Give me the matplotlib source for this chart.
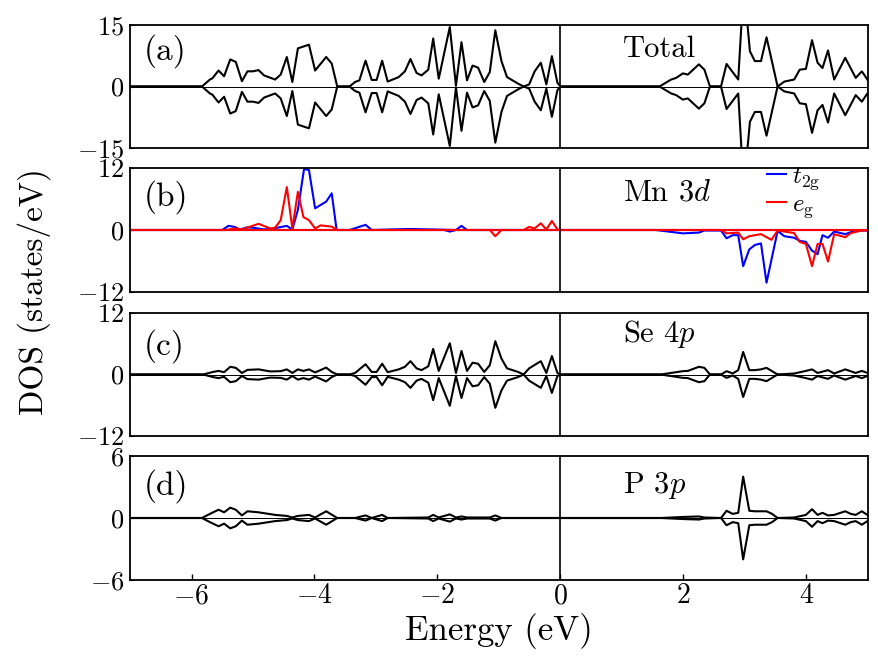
import matplotlib
matplotlib.use("Agg")
import matplotlib.pyplot as plt
import numpy as np

plt.rcParams['font.family'] = ['cmr10', 'DejaVu Serif']
plt.rcParams['mathtext.fontset'] = 'cm'
plt.rcParams['axes.formatter.use_mathtext'] = True

# ---------------- data (energies in eV, DOS in states/eV) ----------------
E_tot = [-7.0, -5.83, -5.70, -5.66, -5.56, -5.47, -5.37, -5.28, -5.18, -5.09,
         -5.00, -4.91, -4.82, -4.64, -4.55, -4.45, -4.36, -4.27, -4.09, -3.99,
         -3.81, -3.72, -3.63, -3.43, -3.34, -3.27, -3.17, -3.07, -2.99, -2.90,
         -2.81, -2.63, -2.53, -2.44, -2.34, -2.26, -2.15, -2.07, -1.98, -1.80,
         -1.70, -1.61, -1.52, -1.43, -1.34, -1.24, -1.15, -1.06, -0.96, -0.87,
         -0.69, -0.60, -0.51, -0.42, -0.32, -0.23, -0.14, -0.05, 0.0, 1.61,
         1.80, 1.88, 1.99, 2.07, 2.25, 2.34, 2.43, 2.61, 2.70, 2.89,
         2.98, 3.08, 3.16, 3.26, 3.35, 3.53, 3.64, 3.80, 3.89, 3.99,
         4.09, 4.18, 4.26, 4.35, 4.45, 4.63, 4.80, 4.90, 4.99, 5.0]
V_tot = [0, 0, 1.7, 2.0, 3.9, 2.5, 6.6, 6.0, 1.3, 3.7,
         3.7, 4.0, 2.7, 1.7, 2.9, 7.2, 1.1, 9.3, 10.2, 3.9,
         7.2, 5.6, 0, 0, 1.1, 1.5, 6.3, 1.6, 1.6, 6.3,
         1.2, 2.3, 3.7, 6.7, 3.3, 2.7, 4.1, 11.7, 1.9, 14.5,
         0.2, 10.8, 1.5, 5.1, 4.6, 1.1, 3.5, 13.7, 6.2, 2.3,
         0.7, 0, 0.5, 3.7, 5.8, 0.5, 7.4, 0.9, 0, 0,
         1.7, 2.1, 3.2, 2.9, 5.4, 4.1, 0, 0, 5.5, 1.7,
         25.0, 8.6, 6.2, 6.2, 12.0, 0, 1.2, 1.7, 4.1, 4.3,
         11.3, 5.8, 4.5, 8.8, 1.7, 7.0, 2.1, 3.7, 1.7, 1.5]

E_t2g_up = [-7.0, -5.50, -5.40, -5.30, -5.21, -5.10, -5.00, -4.82, -4.67, -4.45,
            -4.36, -4.27, -4.17, -4.09, -3.99, -3.81, -3.72, -3.64, -3.43, -3.17,
            -3.07, -2.44, -1.70, -1.61, -1.52, 5.0]
V_t2g_up = [0, 0, 0.8, 0.6, 0.1, 0.5, 0.45, 0.1, 0.3, 0.8,
            0.1, 3.9, 11.8, 11.6, 4.2, 5.5, 7.1, 0, 0, 1.0,
            0, 0.2, 0, 0.8, 0, 0]
E_t2g_dn = [-7.0, -1.89, -1.80, -1.70, 1.55, 1.99, 2.25, 2.34, 2.61, 2.70,
            2.80, 2.89, 2.97, 3.07, 3.16, 3.26, 3.35, 3.53, 3.64, 3.80,
            3.89, 3.99, 4.09, 4.18, 4.26, 4.35, 4.45, 4.63, 4.80, 5.0]
V_t2g_dn = [0, 0, -0.3, 0, 0, -0.65, -0.5, -0.1, -0.1, -1.6,
            -1.0, -1.0, -7.0, -3.75, -2.9, -2.6, -10.2, -0.2, -1.2, -1.5,
            -2.1, -2.3, -4.0, -4.7, -1.0, -1.5, -0.3, -0.8, -0.1, -0.1]
E_eg_up = [-7.0, -5.45, -5.28, -5.18, -4.91, -4.72, -4.64, -4.55, -4.45, -4.36,
           -4.27, -4.18, -4.09, -3.99, -3.90, -3.72, -3.63, -0.60, -0.51, -0.42,
           -0.32, -0.23, -0.14, -0.05, 0.0, 5.0]
V_eg_up = [0, 0, 0.3, 0.1, 1.2, 0.3, 0.45, 1.9, 8.3, 0.3,
           7.4, 2.5, 1.9, 0.3, 0.9, 0.65, 0, 0, 0.6, 0.3,
           1.3, 0.1, 1.75, 0.1, 0, 0]
E_eg_dn = [-7.0, -1.15, -1.06, -0.96, 2.61, 2.70, 2.89, 2.97, 3.07, 3.26,
           3.43, 3.53, 3.80, 3.89, 3.99, 4.09, 4.18, 4.26, 4.35, 4.45,
           4.63, 4.72, 4.90, 5.0]
V_eg_dn = [0, 0, -1.2, 0, 0, -0.65, -0.5, -1.8, -1.2, -0.8,
           -1.9, -0.1, -0.6, -2.3, -2.7, -7.0, -2.7, -2.7, -6.1, -0.8,
           -1.4, -0.6, -0.1, -0.1]

E_se = [-7.0, -5.81, -5.65, -5.56, -5.47, -5.37, -5.28, -5.18, -5.09, -4.91,
        -4.72, -4.55, -4.45, -4.36, -4.27, -4.18, -4.09, -3.99, -3.81, -3.72,
        -3.63, -3.43, -3.34, -3.17, -3.07, -2.99, -2.90, -2.81, -2.63, -2.53,
        -2.44, -2.34, -2.26, -2.15, -2.07, -1.98, -1.80, -1.70, -1.61, -1.52,
        -1.43, -1.34, -1.24, -1.15, -1.06, -0.96, -0.87, -0.69, -0.60, -0.51,
        -0.32, -0.23, -0.14, -0.05, 0.0, 1.63, 1.99, 2.07, 2.25, 2.34,
        2.43, 2.61, 2.70, 2.80, 2.89, 2.97, 3.07, 3.16, 3.26, 3.35,
        3.53, 3.80, 3.99, 4.09, 4.18, 4.35, 4.45, 4.63, 4.80, 4.90,
        4.99, 5.0]
V_se = [0, 0, 0.5, 0.7, 0.45, 1.5, 1.3, 0.3, 0.9, 1.0,
        0.6, 0.65, 1.0, 0.3, 1.0, 0.7, 1.0, 0.4, 1.35, 0.5,
        0, 0, 0.3, 2.0, 0.5, 0.5, 2.1, 0.45, 1.0, 1.5,
        2.6, 1.2, 0.85, 1.6, 5.0, 0.7, 6.1, 0.3, 4.6, 0.7,
        2.3, 2.1, 0.5, 1.8, 6.5, 3.1, 1.2, 0.5, 0, 1.2,
        2.6, 0.3, 3.6, 0.3, 0, 0, 0.65, 0.7, 1.5, 1.3,
        0, 0, 0.65, 0.2, 0.85, 4.4, 0.85, 0.85, 1.0, 1.3,
        0, 0.2, 0.7, 1.0, 0.3, 0.85, 0.2, 1.0, 0.3, 0.7,
        0.3, 0.3]

E_p = [-7.0, -5.83, -5.70, -5.56, -5.47, -5.37, -5.28, -5.18, -5.09, -4.91,
       -4.64, -4.45, -4.36, -4.27, -4.09, -3.99, -3.81, -3.63, -3.34, -3.17,
       -3.07, -2.90, -2.81, -2.15, -2.07, -1.98, -1.80, -1.70, -1.61, -1.52,
       -1.15, -1.06, -0.96, 1.63, 1.99, 2.25, 2.34, 2.61, 2.70, 2.80,
       2.89, 2.97, 3.07, 3.16, 3.35, 3.44, 3.53, 3.80, 3.99, 4.09,
       4.18, 4.26, 4.35, 4.45, 4.63, 4.72, 4.80, 4.90, 4.99, 5.0]
V_p = [0, 0, 0.4, 0.8, 0.55, 1.0, 0.8, 0.25, 0.65, 0.55,
       0.3, 0.2, 0.05, 0.2, 0.3, 0.05, 0.65, 0, 0, 0.25,
       0, 0.3, 0, 0.05, 0.3, 0.05, 0.35, 0.05, 0.15, 0.05,
       0.05, 0.25, 0, 0, 0.1, 0.15, 0.05, 0, 0.7, 0.4,
       0.5, 4.0, 0.7, 0.65, 0.65, 0.4, 0, 0.05, 0.3, 0.85,
       0.3, 0.5, 0.25, 0.3, 0.65, 0.4, 0.3, 0.65, 0.3, 0.3]

panel_tags = ['(a)', '(b)', '(c)', '(d)']
panel_names = ['Total', 'Mn 3$d$', 'Se 4$p$', 'P 3$p$']
ylims = [15, 12, 12, 6]
xticks = [-6, -4, -2, 0, 2, 4]
xticklabels = ['$-6$', '$-4$', '$-2$', '$0$', '$2$', '$4$']

# ---------------- figure ----------------
W, H = 879, 660
fig = plt.figure(figsize=(W / 100, H / 100), dpi=100)
left = 130 / W
width = 738 / W
boxes = [(25, 148), (168, 292), (313, 436), (456, 580)]
axes = []
for top, bot in boxes:
    ax = fig.add_axes([left, 1 - bot / H, width, (bot - top) / H])
    axes.append(ax)

lw = 1.5
black_series = [(E_tot, V_tot), None, (E_se, V_se), (E_p, V_p)]
tag_y = [0.72, 0.70, 0.66, 0.69]
name_y = [0.74, 0.736, 0.767, 0.70]

for i, ax in enumerate(axes):
    lim = ylims[i]
    ax.set_xlim(-7, 5)
    ax.set_ylim(-lim, lim)
    if black_series[i] is not None:
        E, V = black_series[i]
        ax.axhline(0, color='black', lw=0.7, zorder=1)
        ax.plot(E, V, color='black', lw=lw, zorder=2)
        ax.plot(E, [-v for v in V], color='black', lw=lw, zorder=2)
    ax.axvline(0, color='black', lw=1.2, zorder=3)
    ax.set_yticks([lim, 0, -lim])
    ax.set_yticklabels(['$%d$' % lim, '$0$', '$-%d$' % lim])
    ax.tick_params(axis='y', direction='in', length=3, labelsize=19, pad=4)
    ax.set_xticks(xticks)
    if i < 3:
        ax.tick_params(axis='x', length=0, labelbottom=False)
    else:
        ax.set_xticklabels(xticklabels)
        ax.tick_params(axis='x', direction='in', length=4, width=1,
                       labelsize=20, pad=2)
    for sp in ax.spines.values():
        sp.set_linewidth(1.3)
    ax.text(0.018, tag_y[i], panel_tags[i], transform=ax.transAxes,
            fontsize=24, ha='left', va='baseline')
    ax.text(0.668, name_y[i], panel_names[i], transform=ax.transAxes,
            fontsize=22, ha='left', va='baseline')

axb = axes[1]
axb.plot(E_t2g_up, V_t2g_up, color='#0000ff', lw=lw, zorder=2,
         label=r'$t_{2\mathrm{g}}$')
axb.plot(E_t2g_dn, V_t2g_dn, color='#0000ff', lw=lw, zorder=2)
axb.plot(E_eg_up, V_eg_up, color='#ff0000', lw=lw, zorder=2.5,
         label=r'$e_{\mathrm{g}}$')
axb.plot(E_eg_dn, V_eg_dn, color='#ff0000', lw=lw, zorder=2.5)
axb.legend(loc='upper left', bbox_to_anchor=(0.86, 1.04), frameon=False,
           fontsize=18, handlelength=0.75, handletextpad=0.25,
           labelspacing=0.05, borderpad=0.1, borderaxespad=0)

fig.text(34 / W, 1 - 292 / H, 'DOS (states/eV)', rotation=90,
         ha='center', va='center', fontsize=24)
fig.text(499 / W, 1 - 640 / H, 'Energy (eV)', ha='center', va='baseline',
         fontsize=25)

fig.savefig('out.png', dpi=100)
